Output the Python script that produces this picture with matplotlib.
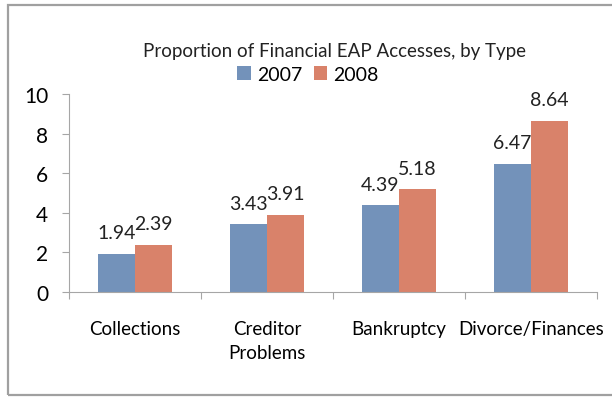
import numpy as np
import matplotlib
matplotlib.use("Agg")
import matplotlib.pyplot as plt
from matplotlib.patches import Rectangle

plt.rcParams['font.family'] = ['Lato', 'DejaVu Sans']

categories = ['Collections', 'Creditor\nProblems', 'Bankruptcy', 'Divorce/Finances']
values_2007 = [1.94, 3.43, 4.39, 6.47]
values_2008 = [2.39, 3.91, 5.18, 8.64]
years = ['2007', '2008']

blue = '#7392BA'
orange = '#D9826A'
axis_gray = '#A6A6A6'

fig = plt.figure(figsize=(6.12, 4.02), dpi=100)
ax = fig.add_axes([0.1127, 0.2711, 0.8628, 0.4926])

# outer chart border
fig.patches.append(Rectangle((8 / 612, 6 / 402), 1.0, 390 / 402,
                             transform=fig.transFigure, fill=False,
                             edgecolor='#A0A0A0', linewidth=1.6))

x = np.arange(len(categories))
w = 0.28
b1 = ax.bar(x - w / 2, values_2007, w, color=blue, label=years[0])
b2 = ax.bar(x + w / 2, values_2008, w, color=orange, label=years[1])

for bars, vals in ((b1, values_2007), (b2, values_2008)):
    for rect, v in zip(bars, vals):
        ax.annotate(f'{v:.2f}', (rect.get_x() + rect.get_width() / 2, v),
                    xytext=(0, 9), textcoords='offset points',
                    ha='center', va='bottom', fontsize=14, color='#222222')

ax.set_xlim(-0.5, 3.5)
ax.set_ylim(0, 10)
ax.set_yticks([0, 2, 4, 6, 8, 10])
ax.tick_params(axis='y', labelsize=15, length=5, color=axis_gray, pad=10)

# tick marks at category boundaries, labels at centers
ax.set_xticks(np.arange(-0.5, 4, 1.0))
ax.set_xticklabels([])
ax.set_xticks(x, minor=True)
ax.set_xticklabels(categories, minor=True, fontsize=13.5, linespacing=1.55)
ax.tick_params(axis='x', which='minor', length=0, pad=20)
ax.tick_params(axis='x', which='major', length=5, color=axis_gray)

for s in ('top', 'right'):
    ax.spines[s].set_visible(False)
for s in ('left', 'bottom'):
    ax.spines[s].set_color(axis_gray)

fig.text(0.546, 0.872, 'Proportion of Financial EAP Accesses, by Type',
         ha='center', va='center', fontsize=13.5, color='#222222')
fig.legend(loc='center', bbox_to_anchor=(0.503, 0.812), ncol=2, frameon=False,
           fontsize=14, handlelength=0.7, handleheight=0.7,
           handletextpad=0.3, columnspacing=0.6)

plt.savefig('out.png', dpi=100)
